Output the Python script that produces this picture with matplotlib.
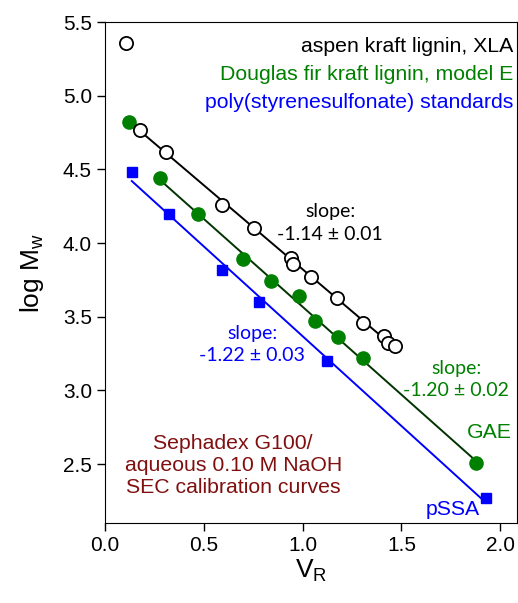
import matplotlib.pyplot as plt
import numpy as np

plt.rcParams['font.family'] = ['Liberation Sans', 'DejaVu Sans']

# aspen kraft lignin, XLA (open circles); first point is off the fit
aspen_vr = [0.106, 0.177, 0.309, 0.594, 0.756, 0.940, 0.950, 1.041, 1.176, 1.308, 1.413, 1.430, 1.465]
aspen_mw = [5.36, 4.77, 4.62, 4.26, 4.10, 3.90, 3.86, 3.77, 3.63, 3.46, 3.37, 3.32, 3.30]

# Douglas fir kraft lignin, model E (filled green circles)
df_vr = [0.123, 0.278, 0.469, 0.700, 0.839, 0.979, 1.063, 1.178, 1.308, 1.878]
df_mw = [4.82, 4.44, 4.20, 3.89, 3.74, 3.64, 3.47, 3.36, 3.22, 2.51]

# poly(styrenesulfonate) standards (blue squares)
ps_vr = [0.135, 0.321, 0.591, 0.780, 1.122, 1.929]
ps_mw = [4.48, 4.20, 3.82, 3.60, 3.20, 2.27]

fig = plt.figure(figsize=(5.18, 6.03), dpi=100)
ax = fig.add_axes([0.203, 0.1327, 0.795, 0.8308])

# fitted lines
def fit_line(x, y, x0, x1, color):
    p = np.polyfit(x, y, 1)
    xx = np.array([x0, x1])
    ax.plot(xx, np.polyval(p, xx), color=color, lw=1.4, zorder=1)

fit_line(aspen_vr[1:], aspen_mw[1:], aspen_vr[1], aspen_vr[-1], 'black')
fit_line(df_vr[1:], df_mw[1:], df_vr[1], df_vr[-1], '#003300')
fit_line(ps_vr, ps_mw, ps_vr[0], ps_vr[-1], '#0000ff')

ax.plot(aspen_vr, aspen_mw, 'o', ms=9.5, mfc='white', mec='black', mew=1.3, zorder=3)
ax.plot(df_vr, df_mw, 'o', ms=9.5, mfc='#008000', mec='#008000', zorder=2)
ax.plot(ps_vr, ps_mw, 's', ms=7.5, mfc='#0000ff', mec='#0000ff', zorder=2)

ax.set_xlim(0, 2.085)
ax.set_ylim(2.1, 5.5)
ax.set_xticks([0.0, 0.5, 1.0, 1.5, 2.0])
ax.set_yticks([2.5, 3.0, 3.5, 4.0, 4.5, 5.0, 5.5])
ax.xaxis.set_major_formatter(plt.FormatStrFormatter('%.1f'))
ax.yaxis.set_major_formatter(plt.FormatStrFormatter('%.1f'))
ax.tick_params(direction='out', length=6, labelsize=15, width=1)
ax.set_xlabel('V$_\\mathregular{R}$', fontsize=19, labelpad=2)
ax.set_ylabel('log M$_\\mathregular{w}$', fontsize=19, labelpad=12)

# legend-like labels
ax.text(2.065, 5.334, 'aspen kraft lignin, XLA', color='black', fontsize=15.3, ha='right', va='center')
ax.text(2.065, 5.144, 'Douglas fir kraft lignin, model E', color='#008000', fontsize=15.3, ha='right', va='center')
ax.text(2.065, 4.954, 'poly(styrenesulfonate) standards', color='#0000ff', fontsize=15.3, ha='right', va='center')

slope_font = ['Lato', 'DejaVu Sans']
ax.text(1.139, 4.135, 'slope:\n-1.14 ± 0.01', color='black', fontsize=14, ha='center', va='center',
        family=slope_font, linespacing=1.38)
ax.text(0.744, 3.31, 'slope:\n-1.22 ± 0.03', color='#0000ff', fontsize=14, ha='center', va='center',
        family=slope_font, linespacing=1.38)
ax.text(1.777, 3.073, 'slope:\n-1.20 ± 0.02', color='#008000', fontsize=14, ha='center', va='center',
        family=slope_font, linespacing=1.38)

ax.text(1.944, 2.713, 'GAE', color='#008000', fontsize=15.3, ha='center', va='center')
ax.text(1.762, 2.19, 'pSSA', color='#0000ff', fontsize=15.3, ha='center', va='center')

ax.text(0.648, 2.49, 'Sephadex G100/\naqueous 0.10 M NaOH\nSEC calibration curves', color='#801010',
        fontsize=15.3, ha='center', va='center', linespacing=1.2)

fig.savefig('out.png', dpi=100)
